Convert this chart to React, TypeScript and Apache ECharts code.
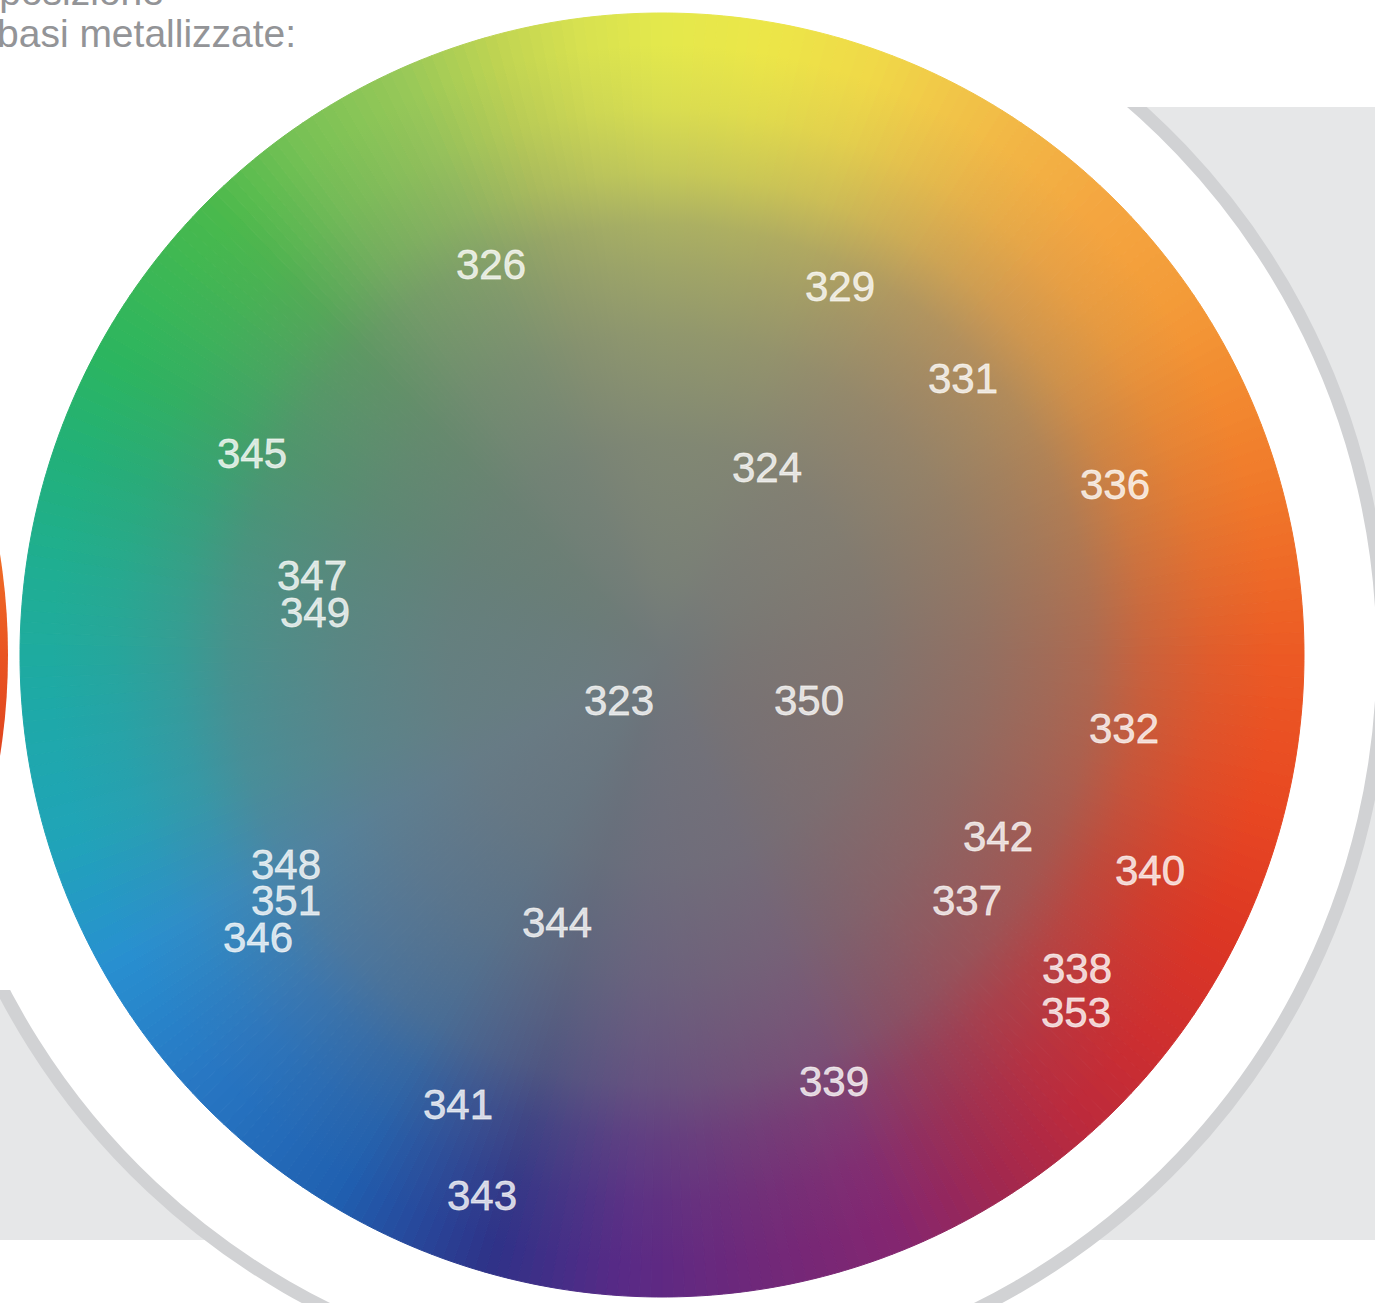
import React, { useEffect, useRef } from "react";
import * as echarts from "echarts";

// Colour codes shown on the wheel and their positions (pixel coordinates of the picture)
const CODES = ["326", "329", "331", "345", "324", "336", "347", "349", "323", "350", "332", "342", "340", "348", "351", "346", "337", "344", "338", "353", "339", "341", "343"];
const CODE_X = [491, 840, 963, 252, 767, 1115, 312, 315, 619, 809, 1124, 998, 1150, 286, 286, 258, 967, 557, 1077, 1076, 834, 458, 482];
const CODE_Y = [264, 286, 378, 453, 467, 484, 575, 612, 700, 700, 728, 836, 870, 864, 900, 937, 900, 922, 968, 1012, 1081, 1104, 1195];

// Hue around the rim, degrees clockwise from the top
const HUE_ANGLES = [0, 10, 20, 28, 35, 45, 56, 65, 75, 90, 104, 117, 129, 138, 148, 158, 172, 184, 196, 211, 228, 241, 253, 265, 278, 288, 298, 315, 325, 336, 345, 352, 360];
const HUE_COLORS = ["#e4e84c", "#ece648", "#f0d848", "#f1c448", "#f2b545", "#f4a540", "#f39a38", "#f28a30", "#f0782a", "#ec5a24", "#e84822", "#dc3624", "#cc2e30", "#bc2a3c", "#a02850", "#842670", "#6e287a", "#582a86", "#2e3288", "#2060b0", "#2878c4", "#2890d0", "#20a4b8", "#1ea9a8", "#1fae92", "#22b07a", "#2bb560", "#4ab94c", "#78c155", "#98c858", "#c0d452", "#d6e050", "#e4e84c"];

// Grey wash from the centre outwards
const WASH_OFFSETS = [0, 0.12, 0.33, 0.5, 0.6, 0.67, 0.75, 0.85, 0.95, 1];
const WASH_ALPHA = [1, 0.93, 0.86, 0.72, 0.6, 0.5, 0.28, 0.1, 0, 0];

const TITLE_LINES = ["Composizione", "basi metallizzate:"];

const W = 1375;
const H = 1303;
const WHEEL = { cx: 662, cy: 655, r: 642 };
const RING = { cx: 652, cy: 654, r: 731, w: 13 };

function hexToRgb(h: string) {
  const n = parseInt(h.slice(1), 16);
  return [(n >> 16) & 255, (n >> 8) & 255, n & 255];
}
function colorAt(deg: number) {
  for (let i = 0; i < HUE_ANGLES.length - 1; i++) {
    const a0 = HUE_ANGLES[i];
    const a1 = HUE_ANGLES[i + 1];
    if (deg >= a0 && deg <= a1) {
      const t = (deg - a0) / (a1 - a0);
      const c0 = hexToRgb(HUE_COLORS[i]);
      const c1 = hexToRgb(HUE_COLORS[i + 1]);
      const c = c0.map((v, k) => Math.round(v + (c1[k] - v) * t));
      return `rgb(${c[0]},${c[1]},${c[2]})`;
    }
  }
  return HUE_COLORS[0];
}
const toRad = (deg: number) => ((deg - 90) * Math.PI) / 180;

export default function App() {
  const ref = useRef<HTMLDivElement>(null);
  useEffect(() => {
    document.body.style.margin = "0";
    const chart = echarts.init(ref.current!, null, { renderer: "svg" });

    const sectors: any[] = [];
    for (let i = 0; i < 360; i++) {
      const col = colorAt(i + 0.5);
      sectors.push({
        type: "sector",
        z: 1,
        silent: true,
        shape: { cx: WHEEL.cx, cy: WHEEL.cy, r: WHEEL.r, r0: 0, startAngle: toRad(i), endAngle: toRad(i + 1), clockwise: true },
        style: { fill: col, stroke: col, lineWidth: 1 },
      });
    }

    const elements: any[] = [
      { type: "rect", z: 0, silent: true, shape: { x: 1000, y: 107, width: 375, height: 1133 }, style: { fill: "#e6e7e8" } },
      { type: "rect", z: 0, silent: true, shape: { x: 0, y: 990, width: 700, height: 250 }, style: { fill: "#e6e7e8" } },
      { type: "circle", z: 0, silent: true, shape: { cx: RING.cx, cy: RING.cy, r: RING.r }, style: { fill: "#ffffff", stroke: "#d1d2d4", lineWidth: RING.w } },
      { type: "rect", z: 0, silent: true, shape: { x: 0, y: 0, width: W, height: 107 }, style: { fill: "#ffffff" } },
      { type: "rect", z: 0, silent: true, shape: { x: 0, y: 0, width: 652, height: 990 }, style: { fill: "#ffffff" } },
      {
        type: "circle",
        z: 0,
        silent: true,
        shape: { cx: -634, cy: 655, r: 642 },
        style: {
          fill: {
            type: "linear", x: 0, y: 554, x2: 0, y2: 756, global: true,
            colorStops: [
              { offset: 0, color: "#f06c26" },
              { offset: 0.5, color: "#e95522" },
              { offset: 1, color: "#e0441e" },
            ],
          },
        },
      },
      {
        type: "text", z: 0, silent: true,
        style: { text: TITLE_LINES[0], x: 164, y: -9, align: "right", verticalAlign: "middle", fontSize: 39, fontFamily: "Liberation Sans", fill: "#939497" },
      },
      {
        type: "text", z: 0, silent: true,
        style: { text: TITLE_LINES[1], x: -3, y: 33, align: "left", verticalAlign: "middle", fontSize: 39, fontFamily: "Liberation Sans", fill: "#939497" },
      },
      ...sectors,
      {
        type: "circle",
        z: 2,
        silent: true,
        shape: { cx: WHEEL.cx, cy: WHEEL.cy, r: WHEEL.r + 1 },
        style: {
          fill: {
            type: "radial", x: 0.5, y: 0.5, r: 0.5,
            colorStops: WASH_OFFSETS.map((o, i) => ({ offset: o, color: `rgba(112,120,122,${WASH_ALPHA[i]})` })),
          },
        },
      },
    ];

    chart.setOption({
      animation: false,
      grid: { left: 0, right: 0, top: 0, bottom: 0 },
      xAxis: { type: "value", min: 0, max: W, show: false },
      yAxis: { type: "value", min: 0, max: H, inverse: true, show: false },
      graphic: { elements },
      series: [
        {
          type: "scatter",
          z: 5,
          silent: true,
          symbolSize: 1,
          itemStyle: { color: "rgba(0,0,0,0)" },
          data: CODES.map((c, i) => ({ name: c, value: [CODE_X[i], CODE_Y[i]] })),
          label: {
            show: true,
            position: "inside",
            formatter: "{b}",
            fontSize: 42,
            lineHeight: 34,
            fontFamily: "Liberation Sans",
            color: "#ffffff",
            textBorderColor: "rgba(255,250,240,0.85)",
            textBorderWidth: 0.8,
          },
        },
      ],
    });
    return () => chart.dispose();
  }, []);
  return <div ref={ref} style={{ position: "absolute", left: 0, top: 0, width: W, height: H }} />;
}
